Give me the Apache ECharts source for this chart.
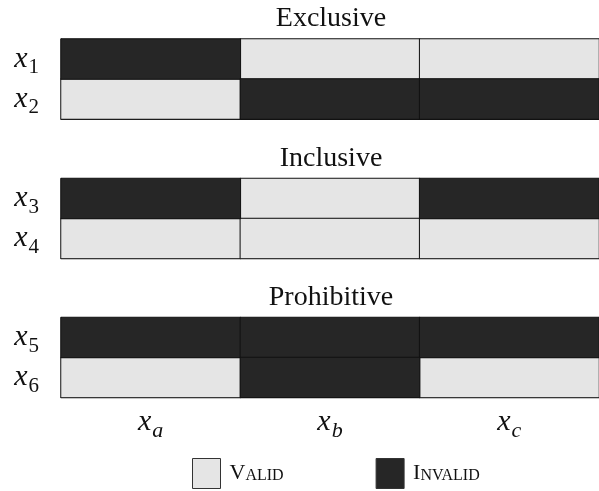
<!DOCTYPE html>
<html>
<head>
<meta charset="utf-8">
<script src="https://cdn.jsdelivr.net/npm/echarts@6/dist/echarts.min.js"></script>
<style>html,body{margin:0;padding:0;background:#fff;}#c{width:599px;height:491px;}</style>
</head>
<body>
<div id="c"></div>
<script>
// ---- data ----
const groupTitles = ['Exclusive', 'Inclusive', 'Prohibitive'];
const columnSubs = ['a', 'b', 'c'];
const rowSubs = [['1', '2'], ['3', '4'], ['5', '6']];
// 1 = Valid, 0 = Invalid ; [group][row][column]
const validity = [
  [[0, 1, 1], [1, 0, 0]],
  [[0, 1, 0], [1, 1, 1]],
  [[0, 0, 0], [1, 0, 1]]
];
const stateNames = ['Invalid', 'Valid'];
const stateColors = { Valid: '#e5e5e5', Invalid: '#262626' };

// ---- layout ----
const gridTops = [39, 178.5, 317.5];
const gridH = 80;
const serif = '"Liberation Serif", "DejaVu Serif", serif';

const grids = [], xAxes = [], yAxes = [], series = [], titles = [];
gridTops.forEach((top, g) => {
  grids.push({ left: 61, top: top, width: 540, height: gridH });
  titles.push({
    text: groupTitles[g], left: 331, textAlign: 'center', top: top - 34, padding: 0,
    textStyle: { fontFamily: serif, fontSize: 28, fontWeight: 'normal', color: '#111' }
  });
  const last = g === gridTops.length - 1;
  xAxes.push({
    type: 'category', gridIndex: g, data: columnSubs,
    axisTick: { show: false }, splitLine: { show: false },
    axisLine: { show: true, lineStyle: { color: '#111', width: 1 } },
    axisLabel: {
      show: last, margin: 10,
      formatter: v => '{x|x}{s|' + v + '}',
      rich: {
        x: { fontFamily: serif, fontStyle: 'italic', fontSize: 30, color: '#111', lineHeight: 30 },
        s: { fontFamily: serif, fontStyle: 'italic', fontSize: 22, color: '#111', lineHeight: 22, padding: [17, 0, 0, 1] }
      }
    }
  });
  yAxes.push({
    type: 'category', gridIndex: g, data: rowSubs[g], inverse: true,
    axisTick: { show: false }, splitLine: { show: false },
    axisLine: { show: true, lineStyle: { color: '#555', width: 1 } },
    axisLabel: {
      margin: 22,
      formatter: v => '{x|x}{s|' + v + '}',
      rich: {
        x: { fontFamily: serif, fontStyle: 'italic', fontSize: 30, color: '#111', lineHeight: 30 },
        s: { fontFamily: serif, fontSize: 21, color: '#111', lineHeight: 21, padding: [17, 0, 0, 1] }
      }
    }
  });
  [1, 0].forEach(state => {
    const name = stateNames[state];
    const data = [];
    validity[g].forEach((row, r) => row.forEach((v, c) => { if (v === state) data.push([c, r, v]); }));
    series.push({
      name: name, type: 'heatmap', xAxisIndex: g, yAxisIndex: g, data: data,
      itemStyle: { color: stateColors[name], borderColor: '#111', borderWidth: 1 },
      emphasis: { disabled: true }, label: { show: false }, silent: true
    });
  });
});

const chart = echarts.init(document.getElementById('c'), null, { renderer: 'canvas' });
chart.setOption({
  backgroundColor: '#fff',
  animation: false,
  title: titles,
  grid: grids,
  xAxis: xAxes,
  yAxis: yAxes,
  legend: {
    data: ['Valid', 'Invalid'], left: 192, top: 458, padding: 0, icon: 'rect',
    itemWidth: 28, itemHeight: 30, itemGap: 92, selectedMode: false,
    itemStyle: { borderColor: '#333', borderWidth: 1 },
    formatter: n => '{b|' + n.charAt(0).toUpperCase() + '}{s|' + n.slice(1).toUpperCase() + '}',
    textStyle: {
      color: '#111', padding: [0, 0, 0, 4],
      rich: {
        b: { fontFamily: serif, fontSize: 22, lineHeight: 22, verticalAlign: 'bottom', color: '#111' },
        s: { fontFamily: serif, fontSize: 16, lineHeight: 16, verticalAlign: 'bottom', color: '#111', padding: [0, 0, 1, 0] }
      }
    }
  },
  series: series
});
</script>
</body>
</html>
